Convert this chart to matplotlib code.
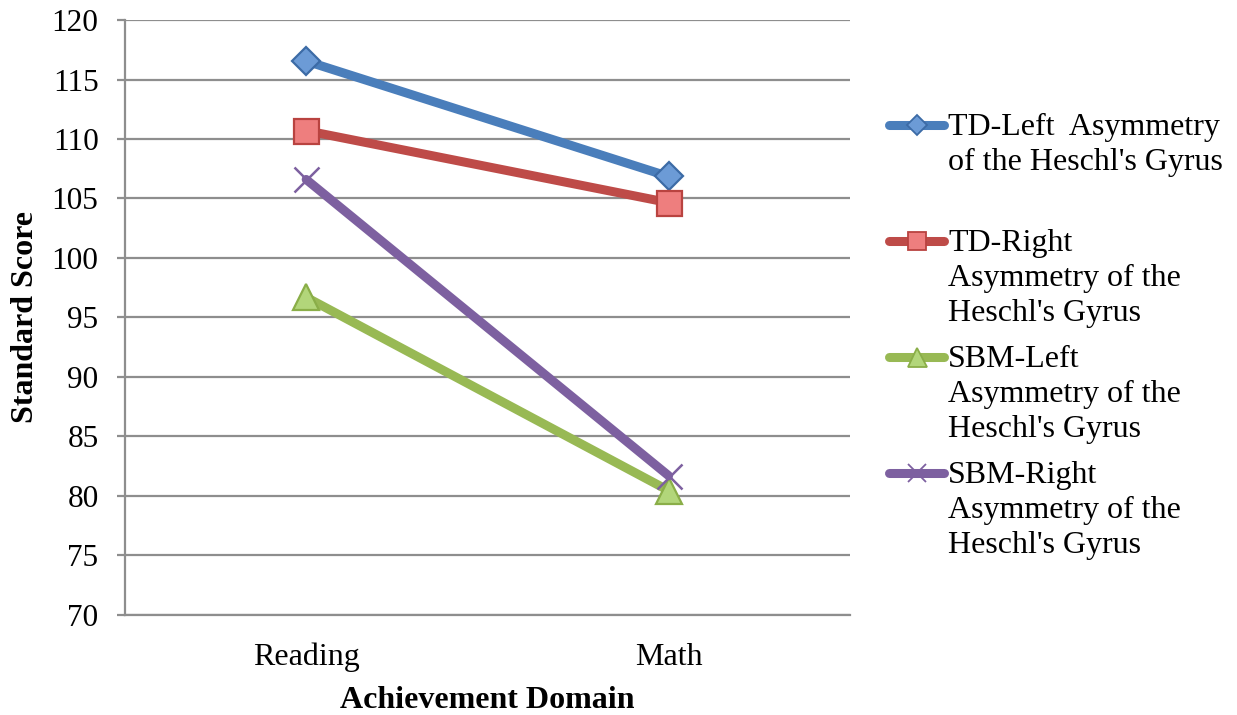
import matplotlib.pyplot as plt
from matplotlib.lines import Line2D

plt.rcParams['font.family'] = ['Liberation Serif', 'DejaVu Serif']

domains = ["Reading", "Math"]
td_left = [116.55, 106.85]
td_right = [110.7, 104.65]
sbm_left = [96.7, 80.45]
sbm_right = [106.6, 81.7]

labels = ["TD-Left  Asymmetry\nof the Heschl's Gyrus",
          "TD-Right\nAsymmetry of the\nHeschl's Gyrus",
          "SBM-Left\nAsymmetry of the\nHeschl's Gyrus",
          "SBM-Right\nAsymmetry of the\nHeschl's Gyrus"]

# line colour, marker, marker size, fill, edge
styles = [("#4A7EBB", "D", 14, "#6C9BD6", "#3C6BA6"),
          ("#BE4B48", "s", 18, "#EE7E7E", "#B94340"),
          ("#98B954", "^", 19, "#B2D67A", "#8AAE48"),
          ("#7D60A0", "x", 18, "#7D60A0", "#7D60A0")]

series = [td_left, td_right, sbm_left, sbm_right]

fig = plt.figure(figsize=(12.37, 7.15), dpi=100)
ax = fig.add_axes([0.101, 0.14, 0.586, 0.832])

xs = [0.5, 1.5]
for vals, (col, mk, ms, fc, ec) in zip(series, styles):
    ax.plot(xs, vals, color=col, linewidth=6.5, solid_capstyle="round",
            marker=mk, markersize=ms, markerfacecolor=fc, markeredgecolor=ec,
            markeredgewidth=1.6 if mk != "x" else 1.8, zorder=3)

ax.set_xlim(0, 2)
ax.set_ylim(70, 120)
ax.set_yticks(range(70, 121, 5))
ax.set_xticks(xs)
ax.set_xticklabels(domains)
ax.yaxis.grid(True, color="#8E8E8E", linewidth=1.6)
ax.set_axisbelow(True)
for s in ["top", "right"]:
    ax.spines[s].set_visible(False)
for s in ["left", "bottom"]:
    ax.spines[s].set_color("#8E8E8E")
    ax.spines[s].set_linewidth(1.6)
ax.tick_params(axis="y", length=6, width=1.6, color="#8E8E8E",
               labelsize=22.5, pad=13)
ax.tick_params(axis="x", length=0, labelsize=23, pad=20)
ax.set_ylabel("Standard Score", fontsize=23, fontweight="bold")
ax.set_xlabel("Achievement Domain", fontsize=23, fontweight="bold")
ax.yaxis.set_label_coords(-0.117, 0.5)
ax.xaxis.set_label_coords(0.5, -0.12)

# legend entries drawn in figure coordinates
W, H = 1237, 715
for i, (lab, (col, mk, ms, fc, ec)) in enumerate(zip(labels, styles)):
    y = 1 - (125 + i * 116) / H
    fig.add_artist(Line2D([889 / W, 944 / W], [y, y], color=col, linewidth=6.5,
                          solid_capstyle="round"))
    fig.add_artist(Line2D([916.5 / W], [y], marker=mk, markersize=ms * 0.72,
                          markerfacecolor=fc, markeredgecolor=ec,
                          markeredgewidth=1.3, color=col))
    fig.text(948 / W, y + 12 / H, lab, fontsize=23, va="top", ha="left",
             linespacing=1.27)

fig.savefig("out.png", dpi=100)
